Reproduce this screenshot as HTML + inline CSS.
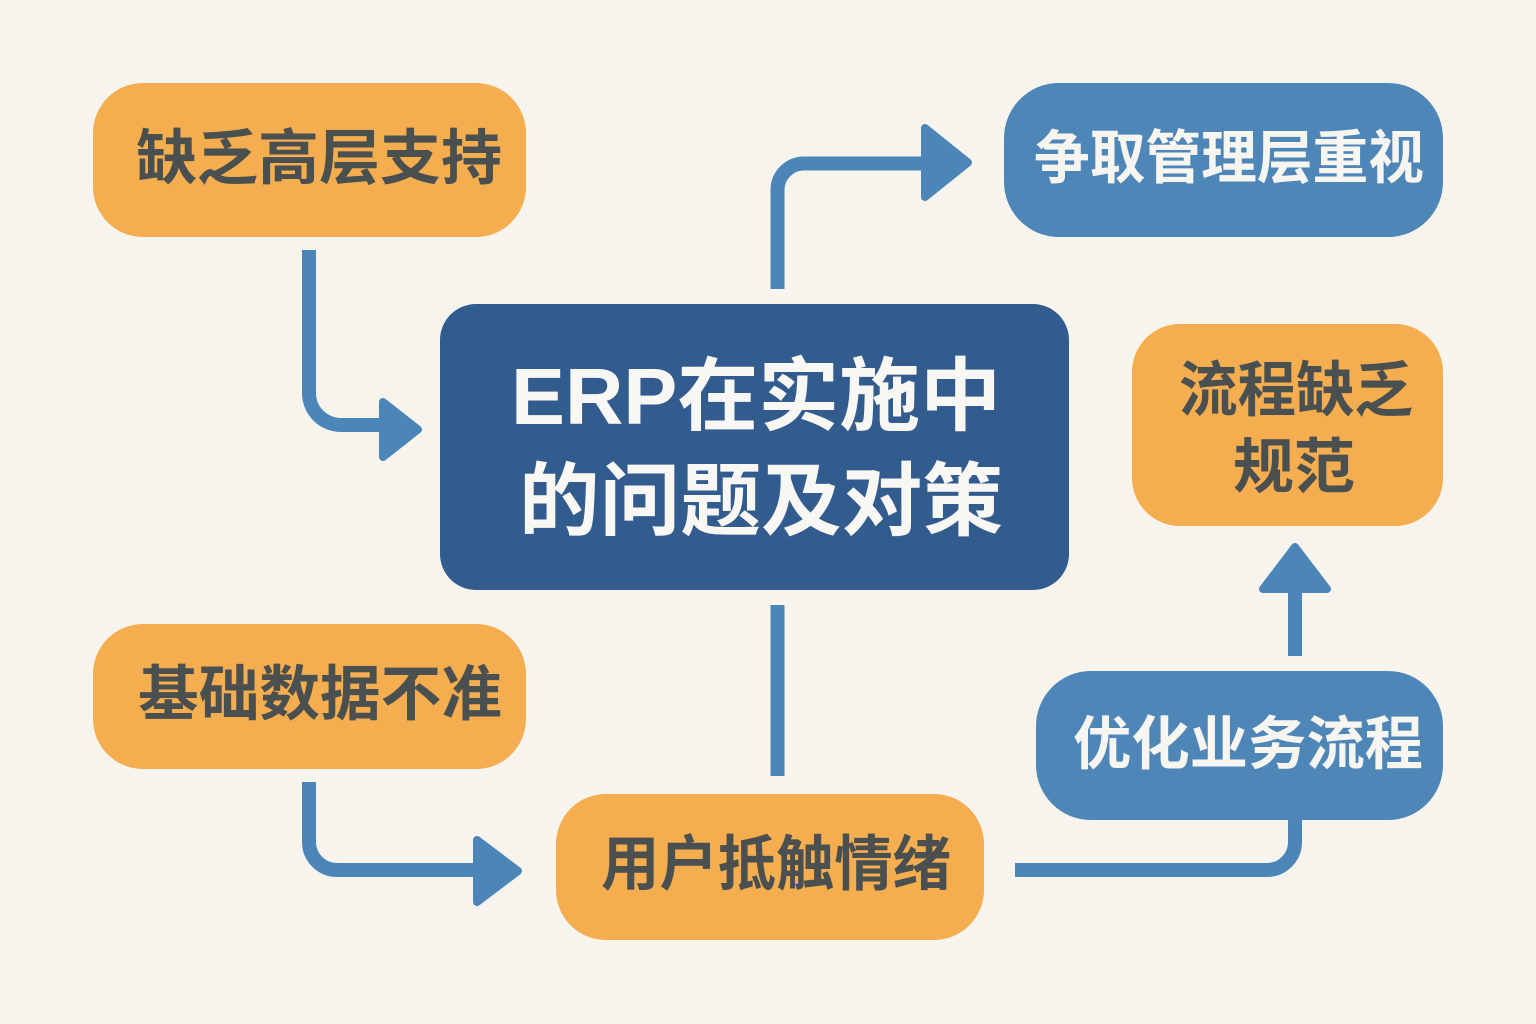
<!DOCTYPE html>
<html lang="zh">
<head>
<meta charset="utf-8">
<style>
html,body{margin:0;padding:0;background:#f7f4ed;}
svg{display:block;}
text{font-family:"Liberation Sans","Noto Sans CJK SC",sans-serif;font-weight:700;text-anchor:middle;}
.o{fill:#4a4f50;font-size:60px;}
.b{fill:#f6f5f0;font-size:58px;}
.c{fill:#f8f7f3;font-size:80px;}
.l{fill:none;stroke:#4c85b8;stroke-width:14;}
.a{fill:#4c85b8;stroke:#4c85b8;stroke-width:8;stroke-linejoin:round;}
</style>
</head>
<body>
<svg width="1536" height="1024" viewBox="0 0 1536 1024" xmlns="http://www.w3.org/2000/svg">
<rect width="1536" height="1024" fill="#f7f4ed"/>

<rect x="93" y="83" width="433" height="154" rx="50" fill="#f4ad4f"/>
<rect x="1004" y="83" width="439" height="154" rx="55" fill="#4f86b8"/>
<rect x="440" y="304" width="629" height="286" rx="36" fill="#325c8e"/>
<rect x="1132" y="324" width="311" height="202" rx="48" fill="#f4ad4f"/>
<rect x="93" y="624" width="433" height="145" rx="50" fill="#f4ad4f"/>
<rect x="1036" y="671" width="407" height="149" rx="55" fill="#4f86b8"/>
<rect x="556" y="794" width="428" height="146" rx="50" fill="#f4ad4f"/>

<path class="l" d="M309 250V393A32 32 0 0 0 341 425H390"/>
<path class="a" d="M383 402L418 429.500L383 457Z"/>
<path class="l" d="M777.500 289V190A26.500 26.500 0 0 1 804 163.500H930"/>
<path class="a" d="M925 128L968 162.500L925 197Z"/>
<path class="l" d="M777.500 605V776"/>
<path class="l" d="M309 782V842A28 28 0 0 0 337 870H480"/>
<path class="a" d="M477 840L518 871L477 902Z"/>
<path class="l" d="M1015 870H1267A28 28 0 0 0 1295 842V818"/>
<path class="l" d="M1295 656V585"/>
<path class="a" d="M1263 589L1295 547L1327 589Z"/>

<text class="o" x="319" y="179" textLength="366" lengthAdjust="spacingAndGlyphs">缺乏高层支持</text>
<text class="b" x="1229" y="178" textLength="390" lengthAdjust="spacingAndGlyphs">争取管理层重视</text>
<text class="c" x="756" y="424" textLength="490" lengthAdjust="spacingAndGlyphs">ERP在实施中</text>
<text class="c" x="761" y="529" textLength="484" lengthAdjust="spacingAndGlyphs">的问题及对策</text>
<text class="o" x="1296" y="411" textLength="234" lengthAdjust="spacingAndGlyphs">流程缺乏</text>
<text class="o" x="1294" y="488" textLength="122" lengthAdjust="spacingAndGlyphs">规范</text>
<text class="o" x="320" y="715" textLength="364" lengthAdjust="spacingAndGlyphs">基础数据不准</text>
<text class="b" x="1248" y="764" textLength="350" lengthAdjust="spacingAndGlyphs">优化业务流程</text>
<text class="o" x="776" y="885" textLength="350" lengthAdjust="spacingAndGlyphs">用户抵触情绪</text>
</svg>
</body>
</html>
